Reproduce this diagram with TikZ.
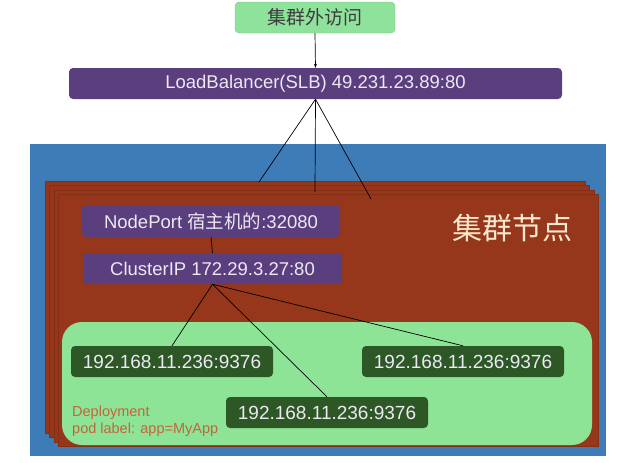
\documentclass[tikz,border=0pt]{standalone}
\usepackage{fontspec}
\setmainfont{Liberation Sans}
\newfontfamily\cjk{Noto Sans CJK SC}
\usetikzlibrary{arrows.meta}
\definecolor{bgblue}{RGB}{62,124,184}
\definecolor{nodered}{RGB}{150,55,28}
\definecolor{nodeedge}{RGB}{132,46,22}
\definecolor{svcpurple}{RGB}{90,62,125}
\definecolor{topmint}{RGB}{143,226,155}
\definecolor{deplgreen}{RGB}{141,228,150}
\definecolor{podgreen}{RGB}{45,88,38}
\definecolor{depltext}{RGB}{196,100,60}
\definecolor{cream}{RGB}{248,232,205}
\definecolor{lighttxt}{RGB}{236,232,244}
\definecolor{toptext}{RGB}{60,60,60}
\tikzset{
  box/.style={rectangle, rounded corners=4pt, inner sep=0pt, align=center},
  svcbox/.style={box, fill=svcpurple, text=lighttxt, minimum height=31pt, font=\fontsize{18.5}{22}\selectfont},
  podbox/.style={box, fill=podgreen, text=lighttxt, minimum width=202pt, minimum height=31pt, font=\fontsize{19}{22}\selectfont},
  conn/.style={black, line width=0.7pt},
  layer/.style={fill=nodered, draw=nodeedge, line width=0.4pt}
}
\begin{document}
\begin{tikzpicture}[x=1pt, y=-1pt]
\useasboundingbox (0,0) rectangle (627,463);
% background cluster area
\fill[bgblue] (30,144) rectangle (606,456);
% stacked node layers
\foreach \i in {0,1,2,3} {
  \path[layer] (45+4.5*\i,181+4.5*\i) rectangle (585+4.5*\i,433+4.5*\i);
}
% deployment area
\fill[deplgreen, rounded corners=20pt] (62,322) rectangle (592,445);
% nodes
\node[box, fill=topmint, draw=topmint!85!black, line width=0.3pt, minimum width=160pt, minimum height=31pt, text=toptext, font=\cjk\fontsize{19}{22}\selectfont] (top) at (315,17.5) {集群外访问};
\node[svcbox, minimum width=493pt] (lb) at (315.5,83.5) {LoadBalancer(SLB) 49.231.23.89:80};
\node[svcbox, minimum width=258pt, minimum height=32pt] (np) at (211,221) {NodePort {\cjk 宿主机的}:32080};
\node[svcbox, minimum width=259pt] (cip) at (212.5,268.5) {ClusterIP 172.29.3.27:80};
\node[podbox] (pod1) at (172,361.5) {192.168.11.236:9376};
\node[podbox] (pod2) at (463,361.5) {192.168.11.236:9376};
\node[podbox] (pod3) at (327,412.5) {192.168.11.236:9376};
\node[text=cream, font=\cjk\fontsize{30}{36}\selectfont, inner sep=0pt] (cluster) at (512,228) {集群节点};
\node[text=depltext, font=\fontsize{14.5}{17}\selectfont, align=left, anchor=west, inner sep=0pt] (depl) at (72,421.5) {Deployment\\pod label: app=MyApp};
% free ends of the load balancer lines
\coordinate (n1) at (259,182);
\coordinate (n2) at (315,192);
\coordinate (n3) at (371,199);
% connectors
\draw[conn, -{Stealth[length=4pt,width=3pt]}] (top.south) -- (lb.north);
\draw[conn] (lb.south) -- (n1);
\draw[conn] (lb.south) -- (n2);
\draw[conn] (lb.south) -- (n3);
\draw[conn] (np.south) -- (cip.north);
\draw[conn] (cip.south) -- (pod1.north);
\draw[conn] (cip.south) -- (pod3.north);
\draw[conn] (cip.south) -- (pod2.north);
\end{tikzpicture}
\end{document}
